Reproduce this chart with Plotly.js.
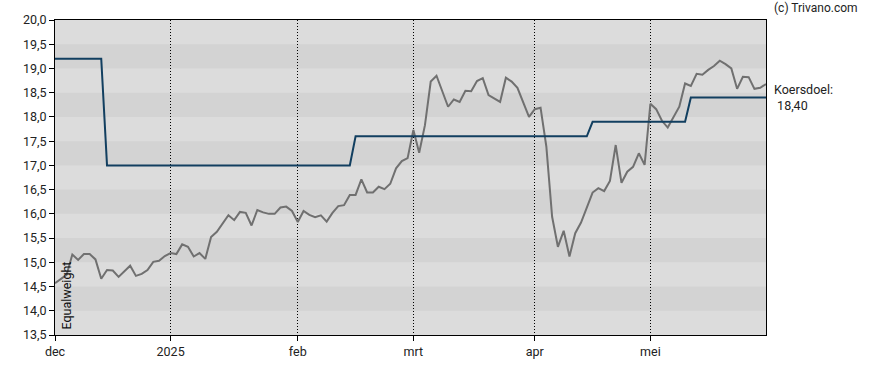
<!DOCTYPE html>
<html>
<head>
<meta charset="utf-8">
<script src="https://cdn.plot.ly/plotly-3.0.1.min.js"></script>
<style>html,body{margin:0;padding:0;background:#fff;}#chart{width:888px;height:370px;}</style>
</head>
<body>
<div id="chart"></div>
<script>
// Closing price per trading day (index 0 = first trading day of December)
var price = [14.57,14.66,14.74,15.16,15.05,15.17,15.17,15.06,14.66,14.84,
  14.83,14.70,14.82,14.93,14.72,14.76,14.84,15.01,15.03,15.13,
  15.19,15.17,15.37,15.32,15.12,15.19,15.07,15.52,15.63,15.80,
  15.97,15.87,16.04,16.02,15.76,16.08,16.03,16.00,16.00,16.13,
  16.15,16.06,15.83,16.06,15.98,15.93,15.97,15.84,16.02,16.16,
  16.18,16.39,16.39,16.71,16.44,16.44,16.56,16.51,16.62,16.94,
  17.09,17.15,17.73,17.26,17.83,18.73,18.85,18.53,18.21,18.36,
  18.31,18.54,18.53,18.74,18.80,18.45,18.38,18.31,18.81,18.73,
  18.60,18.31,18.00,18.16,18.19,17.39,15.94,15.32,15.65,15.12,
  15.60,15.82,16.15,16.44,16.53,16.47,16.68,17.42,16.64,16.87,
  16.97,17.25,17.01,18.27,18.16,17.92,17.78,18.00,18.21,18.69,
  18.64,18.89,18.87,18.97,19.05,19.16,19.09,19.00,18.58,18.83,
  18.82,18.58,18.60,18.68];
var dayIndex = price.map(function(_, i){ return i; });

// Price target (koersdoel) change points
var targetDay = [0, 8, 9, 51, 52, 92, 93, 109, 110, 123];
var targetVal = [19.2, 19.2, 17.0, 17.0, 17.6, 17.6, 17.9, 17.9, 18.4, 18.4];

// Axis ticks
var monthTickDay = [0, 20, 42, 62, 83, 103];
var monthTickLabel = ['dec', '2025', 'feb', 'mrt', 'apr', 'mei'];
var yTicks = [13.5,14.0,14.5,15.0,15.5,16.0,16.5,17.0,17.5,18.0,18.5,19.0,19.5,20.0];

var lastTarget = targetVal[targetVal.length - 1];

var bands = [];
for (var i = 0; i < yTicks.length - 1; i++) {
  if (i % 2 === 1) {
    bands.push({type:'rect', xref:'paper', yref:'y', x0:0, x1:1, y0:yTicks[i], y1:yTicks[i+1],
      fillcolor:'#d3d3d3', line:{width:0}, layer:'below'});
  }
}

var font = 'Roboto, "Liberation Sans", Arial, sans-serif';

var traces = [
  {x: dayIndex, y: price, type:'scatter', mode:'lines',
   line:{color:'#707070', width:2}, hoverinfo:'skip'},
  {x: targetDay, y: targetVal, type:'scatter', mode:'lines',
   line:{color:'#123f60', width:2}, hoverinfo:'skip'}
];

var layout = {
  width: 888, height: 370,
  margin: {l:55, r:122, t:20, b:35},
  paper_bgcolor: '#ffffff',
  plot_bgcolor: '#dcdcdc',
  showlegend: false,
  separators: ',.',
  font: {family: font, size: 12, color: '#222'},
  xaxis: {
    range: [0, dayIndex[dayIndex.length - 1]],
    tickmode: 'array', tickvals: monthTickDay, ticktext: monthTickLabel,
    ticks: 'outside', ticklen: 5, tickcolor: '#000',
    showgrid: true, gridcolor: '#000', gridwidth: 1, griddash: '1px,2px',
    showline: true, linecolor: '#000', linewidth: 1, mirror: true,
    zeroline: false, tickfont: {family: font, size: 12.5, color: '#222'}
  },
  yaxis: {
    range: [13.5, 20.0],
    tickmode: 'array', tickvals: yTicks, tickformat: '.1f',
    ticks: 'outside', ticklen: 5, tickcolor: '#000',
    showgrid: false,
    showline: true, linecolor: '#000', linewidth: 1, mirror: true,
    zeroline: false, tickfont: {family: font, size: 12.5, color: '#222'}
  },
  shapes: bands,
  annotations: [
    {xref:'paper', yref:'paper', x:0, y:0, xanchor:'left', yanchor:'bottom',
     xshift: 1, yshift: 3, text:'Equalweight', textangle:-90, showarrow:false,
     font:{family: font, size: 12.5, color:'#111'}},
    {xref:'paper', yref:'y', x:1, y:lastTarget, xanchor:'left', yanchor:'middle',
     xshift: 6, align:'left', text:'Koersdoel:<br> ' + lastTarget.toFixed(2).replace('.', ','),
     showarrow:false, font:{family: font, size: 12.5, color:'#222'}},
    {xref:'paper', yref:'paper', x:1, y:1, xanchor:'left', yanchor:'bottom',
     xshift: 6, yshift: 3, text:'(c) Trivano.com', showarrow:false,
     font:{family: font, size: 12, color:'#222'}}
  ]
};

Plotly.newPlot('chart', traces, layout, {staticPlot: true, displayModeBar: false});
</script>
</body>
</html>
